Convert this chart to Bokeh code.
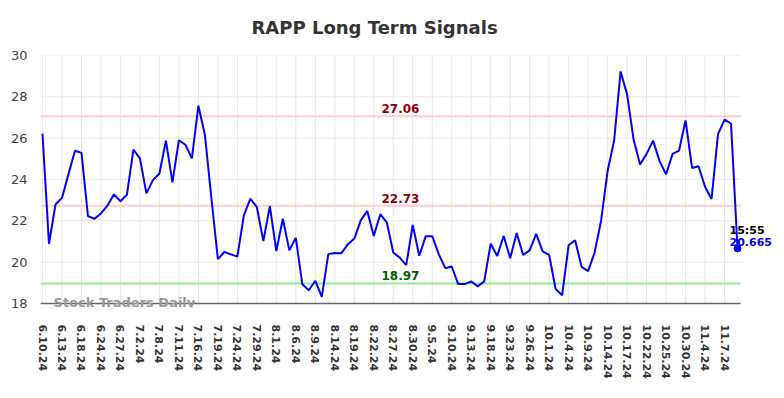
from bokeh.plotting import figure
from bokeh.models import Range1d, FixedTicker, Label, ColumnDataSource
from bokeh.embed import file_html
from bokeh.resources import INLINE

dates = ["6.10.24", "6.11.24", "6.12.24", "6.13.24", "6.14.24", "6.17.24", "6.18.24", "6.20.24", "6.21.24",
         "6.24.24", "6.25.24", "6.26.24", "6.27.24", "6.28.24", "7.1.24", "7.2.24", "7.3.24", "7.5.24",
         "7.8.24", "7.9.24", "7.10.24", "7.11.24", "7.12.24", "7.15.24", "7.16.24", "7.17.24", "7.18.24",
         "7.19.24", "7.22.24", "7.23.24", "7.24.24", "7.25.24", "7.26.24", "7.29.24", "7.30.24", "7.31.24",
         "8.1.24", "8.2.24", "8.5.24", "8.6.24", "8.7.24", "8.8.24", "8.9.24", "8.12.24", "8.13.24",
         "8.14.24", "8.15.24", "8.16.24", "8.19.24", "8.20.24", "8.21.24", "8.22.24", "8.23.24", "8.26.24",
         "8.27.24", "8.28.24", "8.29.24", "8.30.24", "9.3.24", "9.4.24", "9.5.24", "9.6.24", "9.9.24",
         "9.10.24", "9.11.24", "9.12.24", "9.13.24", "9.16.24", "9.17.24", "9.18.24", "9.19.24", "9.20.24",
         "9.23.24", "9.24.24", "9.25.24", "9.26.24", "9.27.24", "9.30.24", "10.1.24", "10.2.24", "10.3.24",
         "10.4.24", "10.7.24", "10.8.24", "10.9.24", "10.10.24", "10.11.24", "10.14.24", "10.15.24", "10.16.24",
         "10.17.24", "10.18.24", "10.21.24", "10.22.24", "10.23.24", "10.24.24", "10.25.24", "10.28.24", "10.29.24",
         "10.30.24", "10.31.24", "11.1.24", "11.4.24", "11.5.24", "11.6.24", "11.7.24", "11.8.24", "11.11.24"]

prices = [26.22, 20.89, 22.79, 23.11, 24.26, 25.39, 25.29, 22.23, 22.10, 22.36,
          22.74, 23.28, 22.95, 23.27, 25.45, 25.02, 23.33, 23.97, 24.29, 25.88,
          23.86, 25.90, 25.68, 25.02, 27.57, 26.17, 23.10, 20.15, 20.49, 20.38,
          20.27, 22.26, 23.07, 22.66, 21.02, 22.71, 20.54, 22.10, 20.57, 21.18,
          18.93, 18.64, 19.10, 18.32, 20.39, 20.44, 20.43, 20.86, 21.14, 22.02,
          22.48, 21.27, 22.32, 21.93, 20.47, 20.22, 19.86, 21.80, 20.31, 21.26,
          21.26, 20.39, 19.71, 19.79, 18.94, 18.94, 19.07, 18.83, 19.07, 20.89,
          20.30, 21.27, 20.19, 21.41, 20.35, 20.57, 21.37, 20.52, 20.35, 18.70,
          18.40, 20.82, 21.06, 19.77, 19.57, 20.47, 22.02, 24.41, 25.88, 29.23,
          28.12, 25.93, 24.73, 25.24, 25.88, 24.89, 24.25, 25.24, 25.40, 26.86,
          24.56, 24.64, 23.65, 23.06, 26.20, 26.90, 26.71, 20.665]

resistance_levels = [27.06, 22.73]
support_levels = [18.97]
last_time = "15:55"
y_ticks = [18, 20, 22, 24, 26, 28, 30]

idx = list(range(len(prices)))
tick_idx = idx[::3]

# plotted area runs from x_start to x_end_area / y_min to y_max; extra room right and below for texts
x_start, x_end_area, x_end = -0.308, 107.47, 113.0
y_min, y_max, y_pad = 18, 30, 17.807

p = figure(width=784, height=398, output_backend="svg", toolbar_location=None,
           x_range=Range1d(x_start, x_end), y_range=Range1d(y_pad, y_max),
           min_border_left=40, min_border_right=8, min_border_top=54, min_border_bottom=91,
           title="RAPP Long Term Signals")
p.outline_line_color = None
p.background_fill_color = "white"
p.border_fill_color = "white"

p.title.text_font = "DejaVu Sans"
p.title.text_font_size = "18px"
p.title.text_font_style = "bold"
p.title.text_color = "#333333"
p.title.align = "left"
p.title.offset = 211
p.title.standoff = 32
p.title.vertical_align = "top"

p.xaxis.ticker = FixedTicker(ticks=tick_idx)
p.xaxis.major_label_overrides = {i: dates[i] for i in tick_idx}
p.xaxis.major_label_orientation = "vertical"
p.xaxis.major_label_text_font = "DejaVu Sans"
p.xaxis.major_label_text_font_size = "11px"
p.xaxis.major_label_text_font_style = "bold"
p.xaxis.major_label_text_color = "#333333"
p.xaxis.major_tick_line_color = None
p.xaxis.major_tick_out = 0
p.xaxis.major_tick_in = 0
p.xaxis.minor_tick_line_color = None
p.xaxis.major_label_standoff = 17
p.xaxis.axis_line_color = None

p.yaxis.ticker = FixedTicker(ticks=y_ticks)
p.yaxis.major_label_text_font = "DejaVu Sans"
p.yaxis.major_label_text_font_size = "13px"
p.yaxis.major_label_text_color = "#444444"
p.yaxis.major_tick_line_color = None
p.yaxis.major_tick_out = 0
p.yaxis.major_tick_in = 0
p.yaxis.minor_tick_line_color = None
p.yaxis.axis_line_color = None
p.yaxis.major_label_standoff = 13

p.xgrid.visible = False
p.ygrid.visible = False
p.segment(x0=tick_idx, x1=tick_idx, y0=[y_min] * len(tick_idx), y1=[y_max] * len(tick_idx),
          line_color="#e6e6e6", line_width=1)
p.segment(x0=[x_start] * len(y_ticks), x1=[x_end_area] * len(y_ticks), y0=y_ticks, y1=y_ticks,
          line_color="#e6e6e6", line_width=1)

label_x = 55.1
for lvl in resistance_levels:
    p.segment(x0=[x_start], x1=[x_end_area], y0=[lvl], y1=[lvl], line_color="#ffcccc", line_width=2)
    p.add_layout(Label(x=label_x, y=lvl, text=f"{lvl:.2f}", text_align="center", text_baseline="bottom",
                       y_offset=3, text_font="DejaVu Sans", text_font_size="12px",
                       text_font_style="bold", text_color="#8b0000"))
for lvl in support_levels:
    p.segment(x0=[x_start], x1=[x_end_area], y0=[lvl], y1=[lvl], line_color="#90ee90", line_width=2)
    p.add_layout(Label(x=label_x, y=lvl, text=f"{lvl:.2f}", text_align="center", text_baseline="bottom",
                       y_offset=3, text_font="DejaVu Sans", text_font_size="12px",
                       text_font_style="bold", text_color="#006400"))

p.add_layout(Label(x=1.7, y=y_min, text="Stock Traders Daily", y_offset=1,
                   text_align="left", text_baseline="middle",
                   text_font="DejaVu Sans", text_font_size="13px", text_font_style="bold",
                   text_color="#999999"))

# bottom axis line at y_min, limited to the plotted area
p.segment(x0=[x_start], x1=[x_end_area], y0=[y_min], y1=[y_min], line_color="#666666", line_width=1.5)

src = ColumnDataSource(data=dict(x=idx, y=prices))
p.line("x", "y", source=src, line_color="#0000ff", line_width=2)

last_i = idx[-1]
last_v = prices[-1]
p.scatter([last_i], [last_v], size=7, color="#0000ff")
p.add_layout(Label(x=last_i, y=last_v, text=last_time, text_align="left", text_baseline="alphabetic",
                   x_offset=-8, y_offset=18, text_font="DejaVu Sans", text_font_size="11px",
                   text_font_style="bold", text_color="#000000"))
p.add_layout(Label(x=last_i, y=last_v, text=f"{last_v:.3f}", text_align="left", text_baseline="alphabetic",
                   x_offset=-8, y_offset=6, text_font="DejaVu Sans", text_font_size="11px",
                   text_font_style="bold", text_color="#0000ff"))

open("out.html", "w").write(file_html(p, INLINE))
